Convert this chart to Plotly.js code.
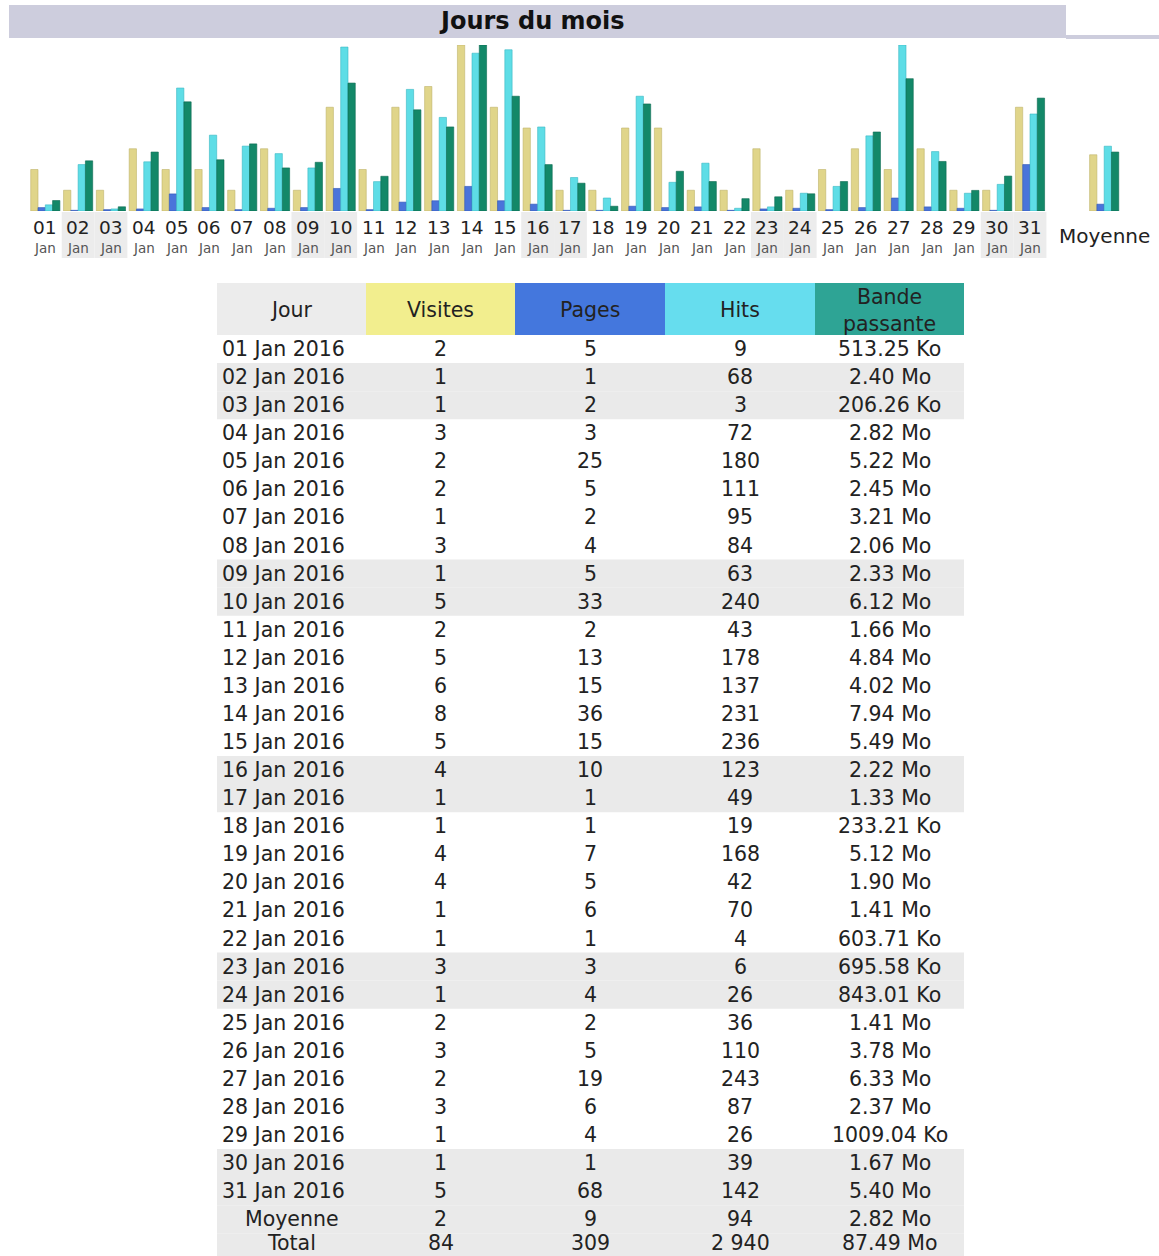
<!DOCTYPE html>
<html>
<head>
<meta charset="utf-8">
<script src="https://cdn.plot.ly/plotly-3.0.1.min.js"></script>
<style>
html,body{margin:0;padding:0;background:#fff;}
#chart{width:1159px;height:1256px;}
</style>
</head>
<body>
<div id="chart"></div>
<script>
// ---------- DATA ----------
const chartTitle = 'Jours du mois';
const monthLabel = 'Jan';
const yearLabel = '2016';
const days = ['01','02','03','04','05','06','07','08','09','10','11','12','13','14','15','16','17','18','19','20','21','22','23','24','25','26','27','28','29','30','31'];
const weekendDays = ['02','03','09','10','16','17','23','24','30','31'];
const visits = [2,1,1,3,2,2,1,3,1,5,2,5,6,8,5,4,1,1,4,4,1,1,3,1,2,3,2,3,1,1,5];
const pages = [5,1,2,3,25,5,2,4,5,33,2,13,15,36,15,10,1,1,7,5,6,1,3,4,2,5,19,6,4,1,68];
const hits = [9,68,3,72,180,111,95,84,63,240,43,178,137,231,236,123,49,19,168,42,70,4,6,26,36,110,243,87,26,39,142];
const bandwidth = ['513.25 Ko','2.40 Mo','206.26 Ko','2.82 Mo','5.22 Mo','2.45 Mo','3.21 Mo','2.06 Mo','2.33 Mo','6.12 Mo','1.66 Mo','4.84 Mo','4.02 Mo','7.94 Mo','5.49 Mo','2.22 Mo','1.33 Mo','233.21 Ko','5.12 Mo','1.90 Mo','1.41 Mo','603.71 Ko','695.58 Ko','843.01 Ko','1.41 Mo','3.78 Mo','6.33 Mo','2.37 Mo','1009.04 Ko','1.67 Mo','5.40 Mo'];
// averages (bars use the unrounded averages)
const avgLabel = 'Moyenne';
const avgVisits = 2.71, avgPages = 9.97, avgHits = 94.84, avgBandwidth = '2.82 Mo';
const avgRow = ['Moyenne', '2', '9', '94', '2.82 Mo'];
const totalRow = ['Total', '84', '309', '2 940', '87.49 Mo'];
const headers = ['Jour', 'Visites', 'Pages', 'Hits', 'Bande<br>passante'];

// ---------- HELPERS ----------
const W = 1159, H = 1256;
const X = p => p / W;
const Y = p => 1 - p / H;
const toMo = s => { const v = parseFloat(s); return s.indexOf('Ko') >= 0 ? v / 1024 : v; };
const bwMo = bandwidth.map(toMo);
const FONT = 'DejaVu Sans, Verdana, sans-serif';

const MOY_X = 33.26;
const xs = days.map((d, i) => i + 1).concat([MOY_X]);
const bw = 0.222;

const colors = {
  visits: '#E0D58A', visitsLine: '#BFB36A',
  pages: '#4A74DA', pagesLine: '#2F55B5',
  hits: '#5EDDE6', hitsLine: '#39B7C2',
  bw: '#138868', bwLine: '#0B6A50'
};

const traces = [
  {type:'bar', x: xs, y: visits.concat([avgVisits]), yaxis:'y', width: bw, offset: -2*bw,
   marker:{color: colors.visits, line:{color: colors.visitsLine, width: 0.6}}, name:'Visites', hoverinfo:'y'},
  {type:'bar', x: xs, y: pages.concat([avgPages]), yaxis:'y2', width: bw, offset: -bw,
   marker:{color: colors.pages, line:{color: colors.pagesLine, width: 0.6}}, name:'Pages', hoverinfo:'y'},
  {type:'bar', x: xs, y: hits.concat([avgHits]), yaxis:'y2', width: bw, offset: 0,
   marker:{color: colors.hits, line:{color: colors.hitsLine, width: 0.6}}, name:'Hits', hoverinfo:'y'},
  {type:'bar', x: xs, y: bwMo.concat([toMo(avgBandwidth)]), yaxis:'y3', width: bw, offset: bw,
   marker:{color: colors.bw, line:{color: colors.bwLine, width: 0.6}}, name:'Bande passante', hoverinfo:'y'}
];

const shapes = [];
const annotations = [];

// title bar
shapes.push({type:'rect', xref:'paper', yref:'paper', x0:X(9), x1:X(1066), y0:Y(38), y1:Y(5), fillcolor:'#CDCDDD', line:{width:0}, layer:'below'});
shapes.push({type:'rect', xref:'paper', yref:'paper', x0:X(1066), x1:X(1159), y0:Y(39), y1:Y(35), fillcolor:'#CDCDDD', line:{width:0}, layer:'below'});
annotations.push({text:'<b>' + chartTitle + '</b>', xref:'paper', yref:'paper', x:X(532), y:Y(21), xanchor:'center', yanchor:'middle', showarrow:false, font:{family:FONT, size:24, color:'#111'}});

// day labels
days.forEach((d, i) => {
  if (weekendDays.indexOf(d) >= 0) {
    shapes.push({type:'rect', xref:'x', yref:'paper', x0:i+0.5, x1:i+1.5, y0:Y(258), y1:Y(212), fillcolor:'#ECECEC', line:{width:0}, layer:'below'});
  }
  annotations.push({text:d, xref:'x', yref:'paper', x:i+1, y:Y(228), xanchor:'center', yanchor:'middle', showarrow:false, font:{family:FONT, size:18.5, color:'#222'}});
  annotations.push({text:monthLabel, xref:'x', yref:'paper', x:i+1, y:Y(248), xanchor:'center', yanchor:'middle', showarrow:false, font:{family:FONT, size:13.5, color:'#555'}});
});
annotations.push({text:avgLabel, xref:'x', yref:'paper', x:MOY_X, y:Y(236), xanchor:'center', yanchor:'middle', showarrow:false, font:{family:FONT, size:20, color:'#222'}});

// ---------- TABLE ----------
const colEdges = [217, 366, 515, 665, 815, 964];
const headTop = 283, headBot = 335, rowH = 28.07;
const headFill = ['#ECECEC', '#F2EE8E', '#4477DD', '#66DDEE', '#2EA495'];
const TF = 20.5;
headers.forEach((h, c) => {
  shapes.push({type:'rect', xref:'paper', yref:'paper', x0:X(colEdges[c]), x1:X(colEdges[c+1]), y0:Y(headBot), y1:Y(headTop), fillcolor:headFill[c], line:{width:0}, layer:'below'});
  annotations.push({text:h, xref:'paper', yref:'paper', x:X((colEdges[c]+colEdges[c+1])/2), y:Y((headTop+headBot)/2 + 1), xanchor:'center', yanchor:'middle', showarrow:false, font:{family:FONT, size:TF, color:'#222'}});
});

const rows = days.map((d, i) => [d + ' ' + monthLabel + ' ' + yearLabel, String(visits[i]), String(pages[i]), String(hits[i]), bandwidth[i]]);
rows.push(avgRow);
rows.push(totalRow);

rows.forEach((r, k) => {
  const top = headBot + k * rowH;
  const isGray = k >= days.length || weekendDays.indexOf(days[k]) >= 0;
  if (isGray) {
    shapes.push({type:'rect', xref:'paper', yref:'paper', x0:X(colEdges[0]), x1:X(colEdges[5]), y0:Y(Math.min(top + rowH, H)), y1:Y(top), fillcolor:'#EAEAEA', line:{width:0}, layer:'below'});
  }
  // last row sits at the page's bottom edge: nudge its text up so it stays whole
  const cy = Math.min(top + rowH / 2, H - 13);
  r.forEach((t, c) => {
    const leftAlign = (c === 0 && k < days.length);
    annotations.push({
      text:t, xref:'paper', yref:'paper',
      x: leftAlign ? X(colEdges[0] + 3) : X((colEdges[c] + colEdges[c+1]) / 2),
      y: Y(cy),
      xanchor: leftAlign ? 'left' : 'center', yanchor:'middle', showarrow:false,
      font:{family:FONT, size:TF, color:'#222'}
    });
  });
});

const layout = {
  width: W, height: H,
  margin: {l:0, r:0, t:0, b:0, pad:0},
  paper_bgcolor: '#ffffff', plot_bgcolor: 'rgba(0,0,0,0)',
  showlegend: false,
  barmode: 'overlay',
  xaxis: {domain:[0,1], range:[-0.38, 34.93], visible:false, fixedrange:true},
  yaxis: {domain:[Y(211), Y(45)], range:[0, Math.max(...visits)], visible:false, fixedrange:true},
  yaxis2: {overlaying:'y', range:[0, Math.max(...hits)], visible:false, fixedrange:true},
  yaxis3: {overlaying:'y', range:[0, Math.max(...bwMo)], visible:false, fixedrange:true},
  shapes: shapes,
  annotations: annotations
};

Plotly.newPlot('chart', traces, layout, {displayModeBar:false, staticPlot:true});
</script>
</body>
</html>
